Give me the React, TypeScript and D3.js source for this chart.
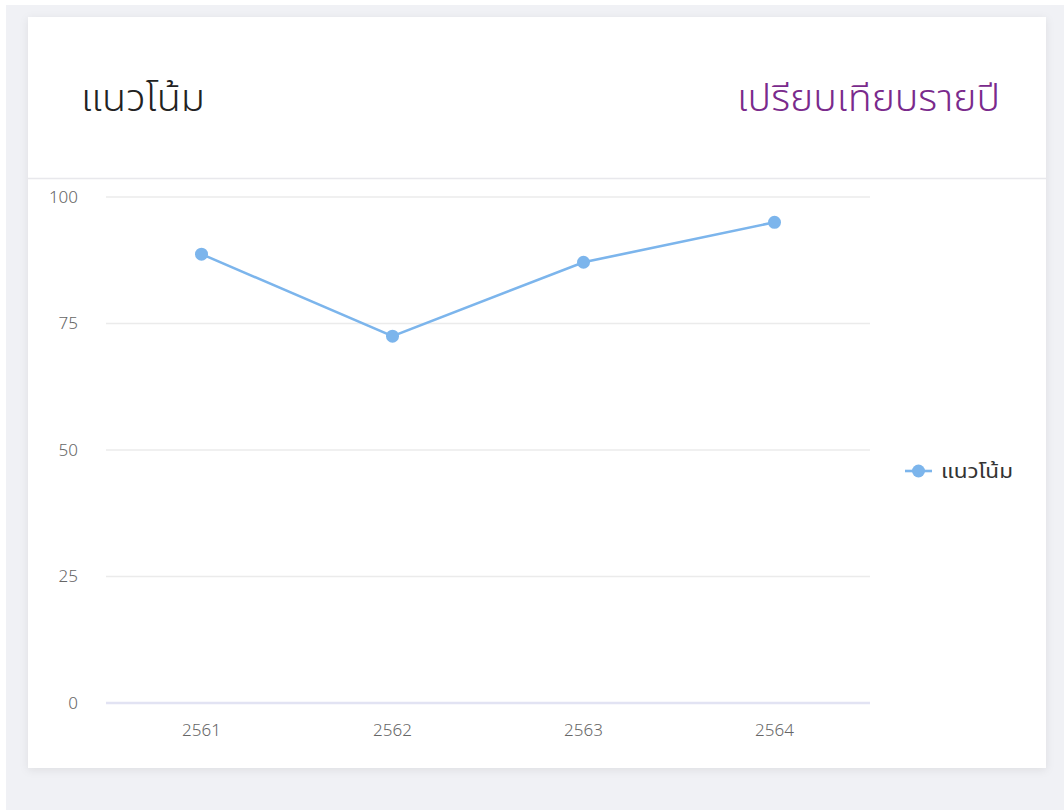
import React from "react";
import * as d3 from "d3";

const categories = ["2561", "2562", "2563", "2564"];
const seriesName = "แนวโน้ม";
const values = [88.7, 72.5, 87.1, 95.0];
const yTicks = [0, 25, 50, 75, 100];
const titleLeft = "แนวโน้ม";
const titleRight = "เปรียบเทียบรายปี";

const W = 1064;
const H = 810;
const FONT = "'Noto Sans', 'Noto Sans Thai', 'Noto Sans CJK SC', sans-serif";

export default function App() {
  const x = d3.scaleBand<string>().domain(categories).range([106, 870]);
  const y = d3.scaleLinear().domain([0, 100]).range([703, 197]);
  const cx = (i: number) => (x(categories[i]) as number) + x.bandwidth() / 2;
  const line = d3
    .line<number>()
    .x((_, i) => cx(i))
    .y((d) => y(d));

  return (
    <svg
      width={W}
      height={H}
      style={{ position: "absolute", left: 0, top: 0, display: "block" }}
      fontFamily={FONT}
    >
      <defs>
        <filter id="sh" x="-5%" y="-5%" width="110%" height="110%">
          <feDropShadow dx="0" dy="2" stdDeviation="4" floodColor="#000" floodOpacity="0.08" />
        </filter>
      </defs>
      <rect x={0} y={0} width={W} height={H} fill="#ffffff" />
      <rect x={6} y={5} width={W - 6} height={H - 5} fill="#f0f1f5" />
      <rect x={28} y={17} width={1018} height={751} fill="#ffffff" filter="url(#sh)" />
      <line x1={28} x2={1046} y1={178.5} y2={178.5} stroke="#e8e8ec" strokeWidth={1.5} />

      <text x={81} y={111} fontSize={38} fill="#222" fontWeight={300}
        textLength={124} lengthAdjust="spacingAndGlyphs">
        {titleLeft}
      </text>
      <text x={737} y={111} fontSize={38} fill="#7a2a8c" fontWeight={300}
        textLength={263} lengthAdjust="spacingAndGlyphs">
        {titleRight}
      </text>

      {yTicks.map((t) => (
        <g key={t}>
          {t !== 0 && (
            <line x1={106} x2={870} y1={y(t)} y2={y(t)} stroke="#ebebeb" strokeWidth={1.5} />
          )}
          <text x={78} y={y(t)} dy="0.35em" textAnchor="end" fontSize={17} fill="#666"
            fontWeight={300}>
            {t}
          </text>
        </g>
      ))}
      <line x1={106} x2={870} y1={y(0)} y2={y(0)} stroke="#e2e3f3" strokeWidth={2.5} />

      {categories.map((c, i) => (
        <text key={c} x={cx(i)} y={736} textAnchor="middle" fontSize={17} fill="#666"
          fontWeight={300}>
          {c}
        </text>
      ))}

      <path d={line(values) || ""} fill="none" stroke="#7cb5ec" strokeWidth={2.6} />
      {values.map((v, i) => (
        <circle key={i} cx={cx(i)} cy={y(v)} r={6.5} fill="#7cb5ec" />
      ))}

      <g>
        <line x1={905} x2={932} y1={471} y2={471} stroke="#7cb5ec" strokeWidth={2.6} />
        <circle cx={918.5} cy={471} r={6.5} fill="#7cb5ec" />
        <text x={941} y={471} dy="0.35em" fontSize={19} fill="#333"
          textLength={72} lengthAdjust="spacingAndGlyphs">
          {seriesName}
        </text>
      </g>
    </svg>
  );
}
